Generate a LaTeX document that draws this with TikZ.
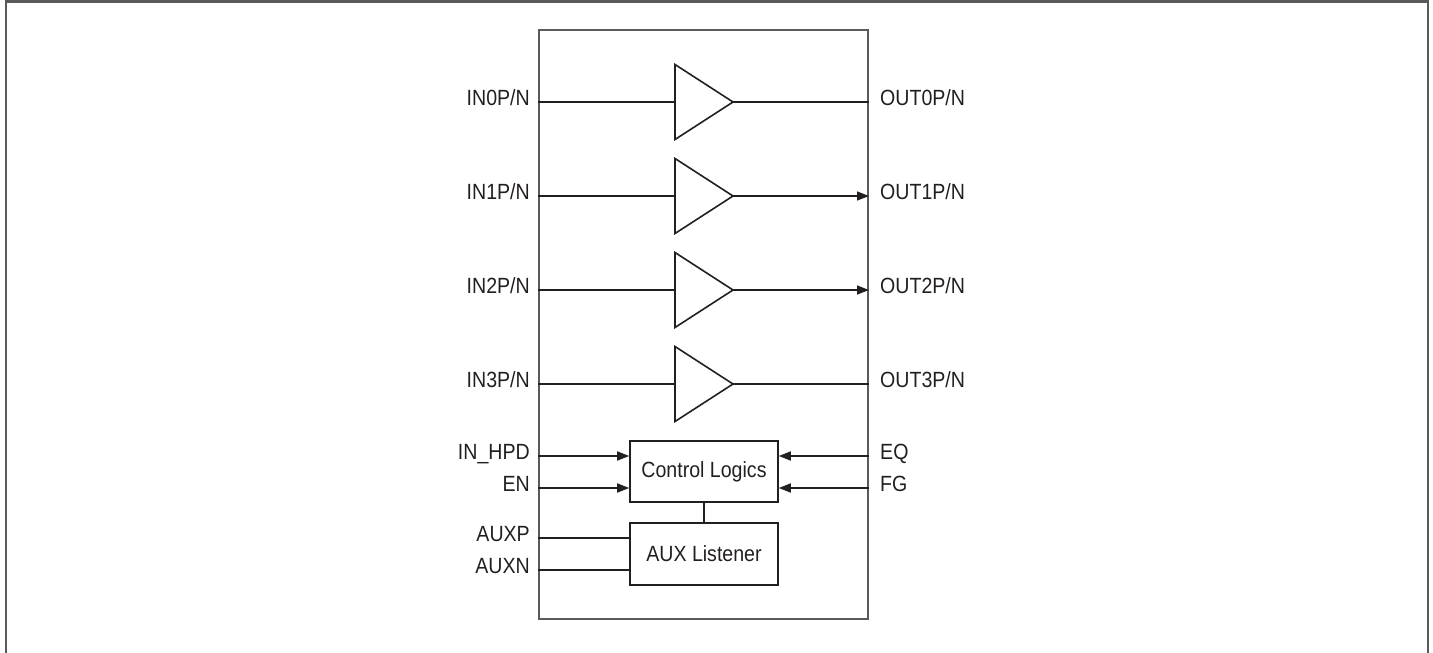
\documentclass[tikz,border=0pt]{standalone}
\usepackage{fontspec}
\setmainfont{Liberation Sans}[FakeStretch=0.89]
\usetikzlibrary{arrows.meta}
\definecolor{ink}{HTML}{231F20}
\definecolor{frame}{HTML}{5A5A5A}
\begin{document}
\begin{tikzpicture}[x=1pt,y=-1pt,
  every node/.style={font=\fontsize{22}{24}\selectfont, text=ink},
  pinl/.style={anchor=east, inner sep=0pt, text height=0.72em, text depth=0pt},
  pinr/.style={anchor=west, inner sep=0pt, text height=0.72em, text depth=0pt},
  wire/.style={draw=ink, line width=1.6pt},
  arr/.style={wire, -{Triangle[length=12pt,width=9pt]}},
  blk/.style={draw=ink, line width=1.6pt, inner sep=0pt, minimum width=148pt},
  ampshape/.style={draw=ink, line width=1.6pt, line join=miter}
]
\useasboundingbox (0,0) rectangle (1433,653);
% outer frame (open at bottom)
\draw[frame, line width=2.2pt] (6,653) -- (6,1.5) -- (1428,1.5) -- (1428,653);
% chip outline
\node[draw=frame, line width=2pt, minimum width=329pt, minimum height=589pt, inner sep=0pt] (chip) at (703.5,324.5) {};

% amplifiers
\foreach \i/\y in {0/102,1/196,2/290,3/384}{
  \coordinate (a\i in) at (675,\y);
  \coordinate (a\i out) at (733,\y);
  \draw[ampshape] (675,\y-37.5) -- (a\i out) -- (675,\y+37.5) -- cycle;
  \node[pinl] (in\i) at (530,\y) {IN\i P/N};
  \node[pinr] (out\i) at (880,\y) {OUT\i P/N};
  \draw[wire] (chip.west |- a\i in) -- (a\i in);
}
\draw[wire] (a0out) -- (chip.east |- a0out);
\draw[arr] (a1out) -- (chip.east |- a1out);
\draw[arr] (a2out) -- (chip.east |- a2out);
\draw[wire] (a3out) -- (chip.east |- a3out);

% control logic and aux listener
\node[blk, minimum height=61pt] (ctl) at (704,471.5) {Control Logics};
\node[blk, minimum height=62pt] (aux) at (704,554) {AUX Listener};
\draw[wire] (ctl.south) -- (aux.north);

\node[pinl] (hpd) at (530,456) {IN\_HPD};
\node[pinl] (en) at (530,488) {EN};
\node[pinl] (auxp) at (530,538) {AUXP};
\node[pinl] (auxn) at (530,570) {AUXN};
\node[pinr] (eq) at (880,456) {EQ};
\node[pinr] (fg) at (880,488) {FG};

\draw[arr] (chip.west |- hpd) -- (ctl.west |- hpd);
\draw[arr] (chip.west |- en) -- (ctl.west |- en);
\draw[wire] (chip.west |- auxp) -- (aux.west |- auxp);
\draw[wire] (chip.west |- auxn) -- (aux.west |- auxn);
\draw[arr] (chip.east |- eq) -- (ctl.east |- eq);
\draw[arr] (chip.east |- fg) -- (ctl.east |- fg);
\end{tikzpicture}
\end{document}
